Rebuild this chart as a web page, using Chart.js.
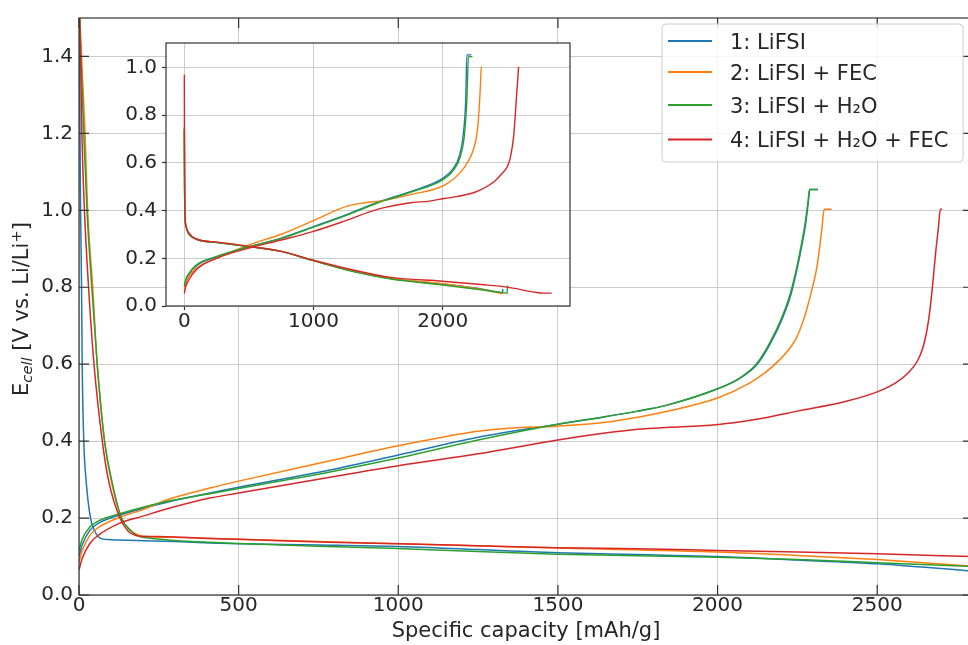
<!DOCTYPE html>
<html>
<head>
<meta charset="utf-8">
<script src="https://cdn.jsdelivr.net/npm/chart.js@4.4.1/dist/chart.umd.min.js"></script>
<style>
    html, body { margin: 0; padding: 0; background: #fff; }
    #wrap { position: relative; width: 968px; height: 645px; overflow: hidden; }
    #main { position: absolute; left: 0; top: 0; }
    #inset { position: absolute; left: 110px; top: 26px; }
</style>
</head>
<body>
<div id="wrap">
    <canvas id="main" width="976" height="645"></canvas>
    <canvas id="inset" width="470" height="320"></canvas>
</div>
<script>
// Galvanostatic profiles, E vs specific capacity

const seriesLabels = ['1: LiFSI', '2: LiFSI + FEC', '3: LiFSI + H\u2082O', '4: LiFSI + H\u2082O + FEC'];
const seriesColors = ['#1f77b4', '#ff7f0e', '#2ca02c', '#d62728'];

const mainXTicks = [0, 500, 1000, 1500, 2000, 2500];
const mainYTicks = [0.0, 0.2, 0.4, 0.6, 0.8, 1.0, 1.2, 1.4];
const insetXTicks = [0, 1000, 2000];
const insetYTicks = [0.0, 0.2, 0.4, 0.6, 0.8, 1.0];

// main plot: discharge (lithiation) curves, [capacity, voltage]
const mainDis1 = [[0,1.55],[2,1.4],[3,1.2],[5,1.0],[8,0.8],[10,0.6],[15,0.4],[22,0.3],[36,0.2],[50,0.165],[57,0.155],[66,0.148],[90,0.144],[180,0.142],[300,0.139],[410,0.135],[500,0.133],[750,0.13],[1000,0.126],[1250,0.118],[1500,0.11],[1750,0.105],[2000,0.1],[2250,0.091],[2500,0.081],[2650,0.072],[2800,0.062]];
const mainDis2 = [[0,1.55],[8,1.4],[19,1.2],[27,1.0],[43,0.8],[57,0.6],[80,0.4],[100,0.3],[133,0.2],[163,0.167],[185,0.156],[200,0.153],[300,0.15],[500,0.145],[750,0.139],[1000,0.133],[1500,0.122],[2000,0.112],[2250,0.103],[2500,0.092],[2800,0.075]];
const mainDis3 = [[0,1.55],[6,1.4],[15,1.2],[25,1.0],[40,0.8],[57,0.6],[80,0.4],[102,0.3],[133,0.2],[165,0.165],[185,0.153],[210,0.149],[300,0.142],[410,0.137],[500,0.134],[750,0.127],[1000,0.121],[1250,0.113],[1500,0.106],[1750,0.102],[2000,0.098],[2250,0.092],[2500,0.084],[2800,0.074]];
const mainDis4 = [[0,1.55],[5,1.4],[9,1.2],[17,1.0],[30,0.8],[47,0.6],[73,0.4],[92,0.3],[128,0.2],[154,0.166],[175,0.156],[191,0.153],[250,0.152],[300,0.151],[410,0.147],[500,0.145],[786,0.137],[1000,0.133],[1250,0.128],[1500,0.123],[1750,0.12],[2000,0.116],[2250,0.112],[2500,0.107],[2800,0.1]];

// main plot: charge (delithiation) curves
const mainChg1 = [[0,0.1],[10,0.13],[34,0.168],[60,0.186],[128,0.208],[200,0.225],[285,0.243],[410,0.265],[500,0.28],[786,0.325],[1000,0.364],[1250,0.41],[1500,0.444],[1630,0.461],[1750,0.478],[1839,0.493],[2000,0.536],[2071,0.564],[2124,0.6],[2166,0.655],[2203,0.719],[2229,0.779],[2249,0.848],[2264,0.909],[2275,0.96],[2284,1.02],[2289,1.054],[2314,1.054]];
const mainChg2 = [[0,0.085],[10,0.115],[34,0.155],[60,0.175],[128,0.202],[200,0.222],[285,0.25],[410,0.278],[500,0.296],[786,0.349],[1000,0.388],[1250,0.426],[1400,0.436],[1500,0.439],[1630,0.447],[1750,0.462],[1839,0.477],[2000,0.512],[2100,0.551],[2152,0.58],[2190,0.608],[2220,0.635],[2245,0.665],[2268,0.712],[2291,0.779],[2310,0.848],[2320,0.905],[2327,0.955],[2334,1.003],[2357,1.003]];
const mainChg3 = [[0,0.115],[10,0.145],[34,0.177],[60,0.192],[128,0.211],[200,0.228],[285,0.245],[410,0.263],[500,0.277],[786,0.32],[1000,0.356],[1250,0.403],[1500,0.444],[1630,0.461],[1750,0.478],[1839,0.493],[2000,0.536],[2069,0.564],[2121,0.6],[2163,0.655],[2200,0.719],[2226,0.779],[2247,0.848],[2262,0.909],[2273,0.96],[2283,1.02],[2288,1.054],[2314,1.054]];
const mainChg4 = [[0,0.065],[10,0.095],[34,0.134],[60,0.155],[128,0.187],[200,0.205],[285,0.226],[410,0.252],[500,0.265],[786,0.306],[1000,0.336],[1250,0.367],[1500,0.403],[1630,0.419],[1750,0.431],[1850,0.436],[1950,0.44],[2050,0.448],[2150,0.461],[2250,0.478],[2400,0.503],[2500,0.528],[2560,0.553],[2600,0.58],[2625,0.607],[2642,0.64],[2655,0.685],[2665,0.74],[2674,0.81],[2683,0.89],[2691,0.95],[2698,1.003],[2703,1.003]];

// inset: discharge curves
const insetDis1 = [[0,0.74],[2,0.5],[5,0.38],[15,0.33],[31,0.305],[96,0.28],[250,0.267],[500,0.249],[750,0.229],[1000,0.19],[1300,0.147],[1600,0.115],[2000,0.092],[2300,0.072],[2464,0.056],[2466,0.072]];
const insetDis2 = [[0,0.74],[2,0.5],[5,0.38],[15,0.33],[31,0.305],[96,0.28],[250,0.268],[500,0.25],[750,0.229],[1000,0.19],[1300,0.148],[1600,0.116],[2000,0.094],[2300,0.07],[2470,0.051]];
const insetDis3 = [[0,0.75],[2,0.5],[5,0.38],[15,0.33],[31,0.305],[96,0.28],[250,0.266],[500,0.249],[750,0.229],[1000,0.19],[1300,0.145],[1600,0.113],[2000,0.088],[2300,0.068],[2450,0.057],[2500,0.054],[2502,0.086]];
const insetDis4 = [[0,0.97],[1,0.7],[2,0.5],[5,0.38],[15,0.33],[31,0.31],[96,0.28],[250,0.268],[500,0.25],[750,0.229],[1000,0.192],[1300,0.152],[1600,0.12],[2000,0.104],[2300,0.09],[2500,0.079],[2700,0.059],[2780,0.054],[2844,0.054]];

// inset: charge curves
const insetChg1 = [[0,0.08],[10,0.105],[31,0.13],[96,0.17],[250,0.205],[500,0.248],[750,0.285],[1000,0.333],[1250,0.382],[1500,0.436],[1750,0.48],[2000,0.535],[2080,0.575],[2130,0.63],[2160,0.72],[2178,0.856],[2188,1.053],[2222,1.053]];
const insetChg2 = [[0,0.065],[10,0.09],[31,0.12],[96,0.16],[250,0.2],[500,0.256],[750,0.301],[1000,0.358],[1250,0.417],[1400,0.433],[1500,0.439],[1750,0.467],[2018,0.508],[2151,0.569],[2200,0.61],[2226,0.638],[2245,0.67],[2262,0.71],[2275,0.77],[2285,0.85],[2293,0.93],[2299,1.003],[2305,1.003]];
const insetChg3 = [[0,0.085],[10,0.11],[31,0.134],[96,0.174],[250,0.208],[500,0.249],[750,0.283],[1000,0.331],[1250,0.379],[1500,0.433],[1750,0.477],[2000,0.529],[2083,0.569],[2135,0.624],[2169,0.719],[2187,0.856],[2200,1.046],[2231,1.046]];
const insetChg4 = [[0,0.052],[10,0.08],[31,0.106],[96,0.154],[250,0.2],[500,0.243],[750,0.277],[1000,0.313],[1250,0.358],[1500,0.406],[1750,0.433],[1900,0.44],[2000,0.45],[2250,0.477],[2400,0.522],[2460,0.556],[2499,0.583],[2525,0.624],[2551,0.719],[2569,0.856],[2588,1.003]];

const FONT = 'DejaVu Sans';
const TEXT = '#262626';
const GRID = '#cbcbcb';
const SPINE = '#333333';

Chart.defaults.font.family = FONT;
Chart.defaults.font.size = 20;
Chart.defaults.color = TEXT;

// one dataset per curve, series 1 first; reversed so series 4 ends on top
const makeSets = (curves, width) => curves.map((pts, i) => ({
    label: seriesLabels[Math.floor(i / 2)],
    data: pts.map(([x, y]) => ({ x, y })),
    borderColor: seriesColors[Math.floor(i / 2)],
    borderWidth: width,
    pointRadius: 0,
    cubicInterpolationMode: 'monotone',
    fill: false
})).reverse();

const useTicks = (values) => (scale) => { scale.ticks = values.map(v => ({ value: v })); };

// full box + inward tick marks on all four sides (main axes)
const frameInward = {
    id: 'frameInward',
    afterDatasetsDraw(chart) {
        const { ctx, chartArea: a, scales } = chart;
        ctx.save();
        ctx.strokeStyle = SPINE;
        ctx.lineWidth = 1.2;
        ctx.strokeRect(a.left, a.top, a.right - a.left, a.bottom - a.top);
        const len = 10;
        ctx.beginPath();
        mainXTicks.forEach(v => {
            const x = scales.x.getPixelForValue(v);
            ctx.moveTo(x, a.bottom); ctx.lineTo(x, a.bottom - len);
            ctx.moveTo(x, a.top); ctx.lineTo(x, a.top + len);
        });
        mainYTicks.forEach(v => {
            const y = scales.y.getPixelForValue(v);
            ctx.moveTo(a.left, y); ctx.lineTo(a.left + len, y);
            ctx.moveTo(a.right, y); ctx.lineTo(a.right - len, y);
        });
        ctx.stroke();
        ctx.restore();
    }
};

// y title with subscript / superscript
const yTitle = {
    id: 'yTitle',
    afterDraw(chart) {
        const { ctx } = chart;
        const parts = [
            { t: 'E', f: `21px "${FONT}"`, dy: 0 },
            { t: 'cell', f: `italic 14.7px "${FONT}"`, dy: 4 },
            { t: ' [V vs. Li/Li', f: `21px "${FONT}"`, dy: 0 },
            { t: '+', f: `14.7px "${FONT}"`, dy: -7.5 },
            { t: ']', f: `21px "${FONT}"`, dy: 0 }
        ];
        ctx.save();
        let w = 0;
        parts.forEach(p => { ctx.font = p.f; p.w = ctx.measureText(p.t).width; w += p.w; });
        ctx.translate(28, 309);
        ctx.rotate(-Math.PI / 2);
        ctx.fillStyle = TEXT;
        ctx.textBaseline = 'alphabetic';
        let x = -w / 2;
        parts.forEach(p => { ctx.font = p.f; ctx.fillText(p.t, x, p.dy); x += p.w; });
        ctx.restore();
    }
};

// matplotlib-like legend box in the upper right
const legendBox = {
    id: 'legendBox',
    afterDraw(chart) {
        const { ctx } = chart;
        const rows = [41, 72, 105, 139.5];
        ctx.save();
        ctx.beginPath();
        ctx.roundRect(662, 24, 301, 138, 4);
        ctx.fillStyle = 'rgba(255,255,255,0.8)';
        ctx.fill();
        ctx.strokeStyle = '#cccccc';
        ctx.lineWidth = 1;
        ctx.stroke();
        ctx.font = `21px "${FONT}"`;
        ctx.textBaseline = 'alphabetic';
        seriesLabels.forEach((label, i) => {
            const y = rows[i];
            ctx.strokeStyle = seriesColors[i];
            ctx.lineWidth = 2;
            ctx.beginPath(); ctx.moveTo(668, y); ctx.lineTo(712, y); ctx.stroke();
            ctx.fillStyle = TEXT;
            ctx.fillText(label, 730, y + 7.6);
        });
        ctx.restore();
    }
};

new Chart(document.getElementById('main'), {
    type: 'line',
    data: { datasets: makeSets([mainDis1, mainChg1, mainDis2, mainChg2, mainDis3, mainChg3, mainDis4, mainChg4], 1.5) },
    options: {
        responsive: false, animation: false,
        layout: { padding: { top: 13, right: 3, left: 0, bottom: 0 } },
        plugins: { legend: { display: false }, tooltip: { enabled: false } },
        scales: {
            x: {
                type: 'linear', min: 0, max: 2800,
                afterFit: (s) => { s.height = 50; },
                afterBuildTicks: useTicks(mainXTicks),
                grid: { color: GRID, lineWidth: 1, drawTicks: false },
                border: { display: false },
                ticks: { padding: -1, autoSkip: false, maxRotation: 0, color: TEXT, callback: v => String(v) },
                title: { display: true, text: 'Specific capacity [mAh/g]', color: TEXT, font: { size: 21 }, padding: { top: 0, bottom: 1 } }
            },
            y: {
                type: 'linear', min: 0, max: 1.5,
                afterFit: (s) => { s.width = 79; },
                afterBuildTicks: useTicks(mainYTicks),
                grid: { color: GRID, lineWidth: 1, drawTicks: false },
                border: { display: false },
                ticks: { padding: 6, autoSkip: false, color: TEXT, callback: v => v.toFixed(1) }
            }
        }
    },
    plugins: [frameInward, yTitle, legendBox]
});

// inset: white face and full box
const insetFrame = {
    id: 'insetFrame',
    beforeDraw(chart) {
        const { ctx, chartArea: a } = chart;
        ctx.save();
        ctx.fillStyle = '#ffffff';
        ctx.fillRect(a.left, a.top, a.right - a.left, a.bottom - a.top);
        ctx.restore();
    },
    afterDatasetsDraw(chart) {
        const { ctx, chartArea: a } = chart;
        ctx.save();
        ctx.strokeStyle = SPINE;
        ctx.lineWidth = 1.2;
        ctx.strokeRect(a.left, a.top, a.right - a.left, a.bottom - a.top);
        ctx.restore();
    }
};

new Chart(document.getElementById('inset'), {
    type: 'line',
    data: { datasets: makeSets([insetDis1, insetChg1, insetDis2, insetChg2, insetDis3, insetChg3, insetDis4, insetChg4], 1.4) },
    options: {
        responsive: false, animation: false,
        layout: { padding: { top: 10, right: 10, left: 0, bottom: 0 } },
        plugins: { legend: { display: false }, tooltip: { enabled: false } },
        scales: {
            x: {
                type: 'linear', min: -142, max: 2986,
                afterFit: (s) => { s.height = 40; },
                afterBuildTicks: useTicks(insetXTicks),
                grid: { color: GRID, lineWidth: 1, tickLength: 4, tickColor: SPINE, tickWidth: 1.2 },
                border: { display: false },
                ticks: { padding: 0, autoSkip: false, maxRotation: 0, color: TEXT, callback: v => String(v) }
            },
            y: {
                type: 'linear', min: 0, max: 1.103,
                afterFit: (s) => { s.width = 56; },
                afterBuildTicks: useTicks(insetYTicks),
                grid: { color: GRID, lineWidth: 1, tickLength: 4, tickColor: SPINE, tickWidth: 1.2 },
                border: { display: false },
                ticks: { padding: 5, autoSkip: false, color: TEXT, callback: v => v.toFixed(1) }
            }
        }
    },
    plugins: [insetFrame]
});
</script>
</body>
</html>
